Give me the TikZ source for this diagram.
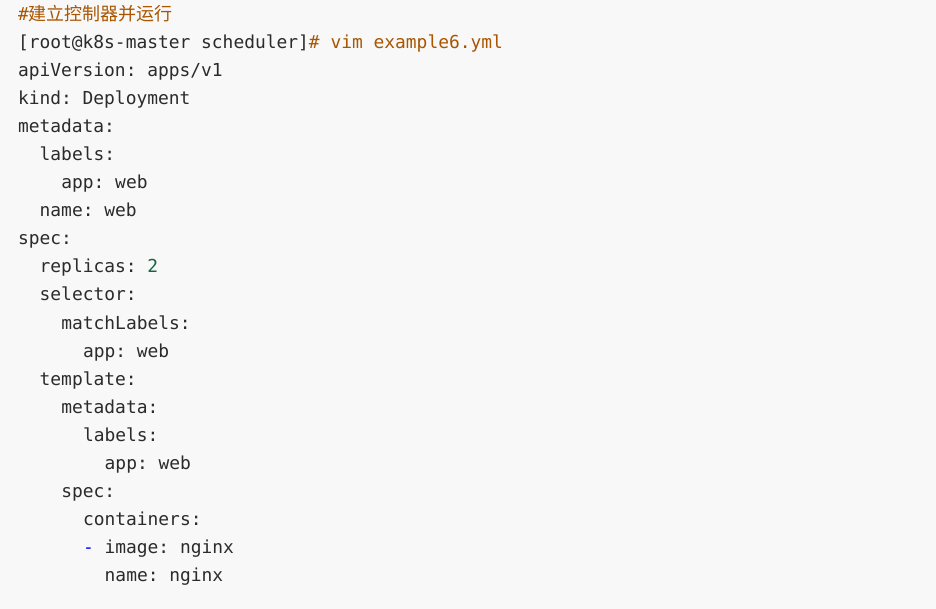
\documentclass[tikz,border=0pt]{standalone}
\usepackage{fontspec}
\setmonofont{DejaVu Sans Mono}
\newfontfamily\cjk{Noto Sans CJK SC}
\definecolor{bgc}{HTML}{F8F8F8}
\definecolor{txt}{HTML}{2B2B2B}
\definecolor{cmt}{HTML}{AA5500}
\definecolor{num}{HTML}{116644}
\definecolor{dash}{HTML}{0000FF}
\begin{document}
\begin{tikzpicture}[x=1pt,y=1pt,
  codeline/.style={anchor=base west,inner sep=0pt,outer sep=0pt,text=txt,
    font=\fontsize{17.9pt}{20pt}\ttfamily}]
\fill[bgc] (0,0) rectangle (936,-609);
\useasboundingbox (0,0) rectangle (936,-609);
\def\cw{10.84}
\newcommand\codeat[4]{\node[codeline] (#1) at ({18+#2*\cw},{-21-28*(#3-1)}) {#4};}
\codeat{l1}{0}{1}{\textcolor{cmt}{\#{\cjk\fontsize{18pt}{20pt}\selectfont 建立控制器并运行}}}
\codeat{l2}{0}{2}{[root@k8s-master scheduler]\textcolor{cmt}{\# vim example6.yml}}
\codeat{l3}{0}{3}{apiVersion: apps/v1}
\codeat{l4}{0}{4}{kind: Deployment}
\codeat{l5}{0}{5}{metadata:}
\codeat{l6}{2}{6}{labels:}
\codeat{l7}{4}{7}{app: web}
\codeat{l8}{2}{8}{name: web}
\codeat{l9}{0}{9}{spec:}
\codeat{l10}{2}{10}{replicas: \textcolor{num}{2}}
\codeat{l11}{2}{11}{selector:}
\codeat{l12}{4}{12}{matchLabels:}
\codeat{l13}{6}{13}{app: web}
\codeat{l14}{2}{14}{template:}
\codeat{l15}{4}{15}{metadata:}
\codeat{l16}{6}{16}{labels:}
\codeat{l17}{8}{17}{app: web}
\codeat{l18}{4}{18}{spec:}
\codeat{l19}{6}{19}{containers:}
\codeat{l20}{6}{20}{\textcolor{dash}{-} image: nginx}
\codeat{l21}{8}{21}{name: nginx}
\end{tikzpicture}
\end{document}
